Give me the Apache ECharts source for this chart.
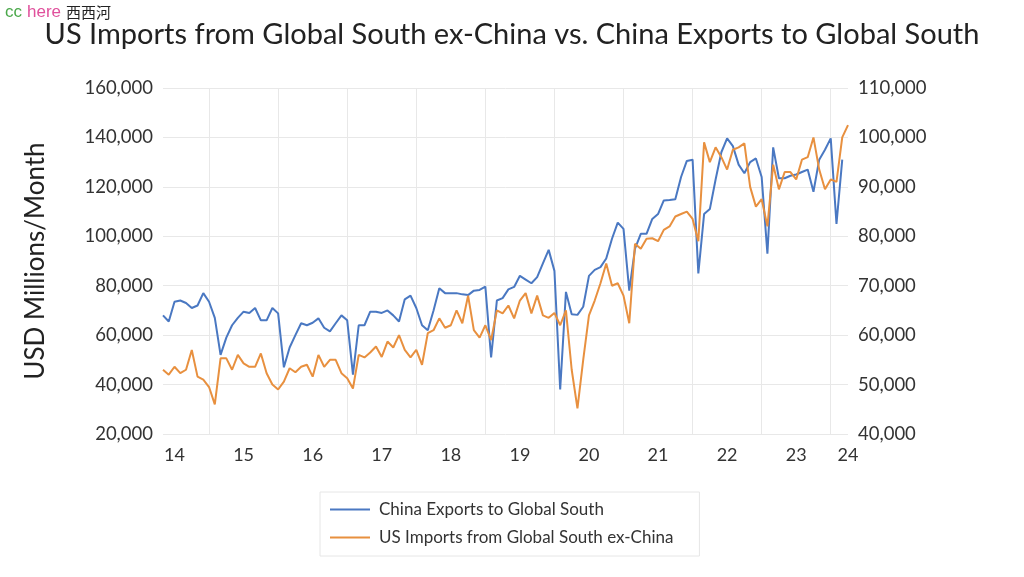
<!DOCTYPE html>
<html>
<head>
<meta charset="utf-8">
<script src="https://cdn.jsdelivr.net/npm/echarts@6/dist/echarts.min.js"></script>
<style>
html,body{margin:0;padding:0;background:#fff;}
#c{width:1024px;height:577px;}
</style>
</head>
<body>
<div id="c"></div>
<script>
// Monthly categories: May 2014 .. Apr 2024
const startYear = 2014, startMonth = 5, monthCount = 120;
const categories = [];
for (let k = 0; k < monthCount; k++) {
  const m = (startMonth - 1 + k) % 12 + 1;
  const y = startYear + Math.floor((startMonth - 1 + k) / 12);
  categories.push(y + '-' + (m < 10 ? '0' + m : m));
}

// China Exports to Global South (left axis, USD millions/month)
const chinaExports = [
  68000, 65500, 73500, 74000, 73000, 71000, 72000, 77000, 73500, 67000,
  52000, 59000, 64000, 67000, 69500, 69000, 71000, 66000, 66000, 71000,
  68800, 47000, 55000, 60000, 64800, 64000, 65000, 66800, 63000, 61500,
  64800, 68000, 66000, 44000, 64000, 64000, 69500, 69500, 69000, 70000, 68000,
  65500, 74500, 76000, 71000, 64000, 62000, 70000, 79000, 77000, 77000,
  77000, 76500, 76200, 78000, 78300, 79600, 51000, 74000, 75000,
  78500, 79500, 84000, 82500, 81000, 83500, 89000, 94500, 86000, 38000,
  77500, 68500, 68200, 71500, 84000, 86400, 87500, 91000, 99000, 105500, 103000,
  78000, 95000, 101000, 101000, 107000, 109000, 114500, 114700, 115000, 124000,
  130500, 131000, 85000, 109000, 111000, 123000, 134000, 139600, 136500,
  129000, 125500, 130000, 131500, 124000, 93000, 136000, 123500, 123500, 124500,
  125000, 126000, 127000, 118000, 131000, 135000, 139600, 105000, 131000, null
];

// US Imports from Global South ex-China (right axis)
const usImports = [
  53000, 52000, 53600, 52300, 53000, 57000, 51600, 51000, 49500, 46000,
  55300, 55300, 53000, 56000, 54300, 53600, 53600, 56300, 52300, 50000,
  49000, 50600, 53300, 52500, 53600, 54000, 51600, 56000, 53600, 55000,
  55000, 52300, 51300, 49200, 56000, 55500, 56500, 57700, 55600, 58700, 57500,
  60000, 57000, 55500, 57000, 54000, 60400, 61000, 63400, 61500, 62000,
  65000, 62400, 68000, 61000, 59500, 62000, 59000, 65000, 64400,
  66000, 63400, 67000, 68500, 64400, 68000, 64000, 63500, 64500, 62000,
  65000, 53000, 45200, 55000, 64000, 67000, 70500, 74500, 70000, 70500, 68000,
  62400, 78500, 77500, 79500, 79600, 79000, 81300, 82000, 84000, 84500,
  85000, 83500, 79000, 99000, 95000, 98000, 96000, 93500, 97500,
  98000, 98800, 90000, 86000, 87500, 82000, 94500, 89500, 93000, 93000,
  91500, 95500, 96000, 100000, 93500, 89500, 91500, 91000, 100000, 102500
];

const leftTicks = {min: 20000, max: 160000, interval: 20000};
const rightTicks = {min: 40000, max: 110000, interval: 10000};
const seriesNames = ['China Exports to Global South', 'US Imports from Global South ex-China'];
const labelMonth = '07';

const chart = echarts.init(document.getElementById('c'));
const fmt = v => v.toLocaleString('en-US');
const FONT = 'Lato';

chart.setOption({
  backgroundColor: '#fff',
  animation: false,
  title: [{
    text: '{g|cc} {p|here} {k|西西河}',
    left: 0, top: -2,
    textStyle: {
      fontWeight: 'normal',
      rich: {
        g: {color: '#4aa84a', fontSize: 17, fontFamily: 'Liberation Sans', fontWeight: 'normal'},
        p: {color: '#e0509c', fontSize: 17, fontFamily: 'Liberation Sans', fontWeight: 'normal'},
        k: {color: '#222', fontSize: 15, fontFamily: 'Noto Sans CJK SC', fontWeight: 'normal'}
      }
    }
  }, {
    text: 'US Imports from Global South ex-China vs. China Exports to Global South',
    left: 'center', top: 15,
    textStyle: {color: '#222', fontSize: 29, fontWeight: 'normal', fontFamily: FONT}
  }],
  legend: {
    orient: 'vertical',
    left: 320, top: 492,
    padding: [9, 26, 10, 10],
    itemGap: 11,
    itemWidth: 40, itemHeight: 2,
    icon: 'rect',
    borderColor: '#e6e6e6', borderWidth: 1,
    textStyle: {fontSize: 17, color: '#333', fontFamily: FONT, padding: [0, 0, 0, 4]},
    data: seriesNames
  },
  grid: {left: 163, right: 176, top: 88, bottom: 143},
  xAxis: {
    type: 'category',
    data: categories,
    boundaryGap: false,
    axisLine: {show: false},
    axisTick: {show: false},
    splitLine: {
      show: true,
      interval: (i, v) => v.slice(5) === '01',
      lineStyle: {color: '#e8e8e8', width: 1}
    },
    axisLabel: {
      interval: (i, v) => v.slice(5) === labelMonth || i === categories.length - 1,
      formatter: v => v.slice(2, 4),
      fontSize: 18, color: '#333', fontFamily: FONT, margin: 12
    }
  },
  yAxis: [{
    type: 'value',
    min: leftTicks.min, max: leftTicks.max, interval: leftTicks.interval,
    name: 'USD Millions/Month',
    nameLocation: 'middle', nameGap: 114,
    nameTextStyle: {fontSize: 26, color: '#222', fontFamily: FONT},
    axisLine: {show: false}, axisTick: {show: false},
    splitLine: {show: true, lineStyle: {color: '#e8e8e8', width: 1}},
    axisLabel: {formatter: fmt, fontSize: 18.5, color: '#333', fontFamily: FONT, margin: 10}
  }, {
    type: 'value',
    min: rightTicks.min, max: rightTicks.max, interval: rightTicks.interval,
    position: 'right',
    axisLine: {show: false}, axisTick: {show: false},
    splitLine: {show: false},
    axisLabel: {formatter: fmt, fontSize: 18.5, color: '#333', fontFamily: FONT, margin: 10}
  }],
  series: [{
    name: seriesNames[0],
    type: 'line', yAxisIndex: 0,
    data: chinaExports,
    showSymbol: false, symbol: 'none',
    lineStyle: {color: '#4a78c2', width: 2},
    itemStyle: {color: '#4a78c2'},
    z: 2
  }, {
    name: seriesNames[1],
    type: 'line', yAxisIndex: 1,
    data: usImports,
    showSymbol: false, symbol: 'none',
    lineStyle: {color: '#e8903f', width: 2},
    itemStyle: {color: '#e8903f'},
    z: 3
  }]
});
</script>
</body>
</html>
